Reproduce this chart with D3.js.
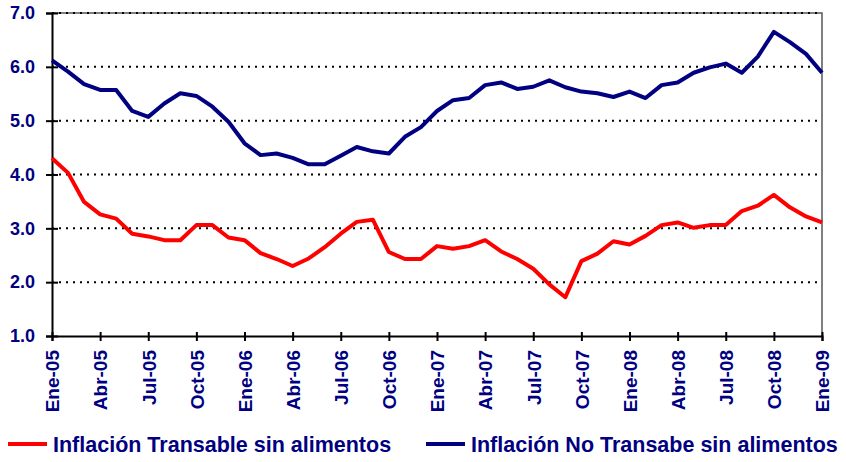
<!DOCTYPE html>
<html>
<head>
<meta charset="utf-8">
<script src="https://cdn.jsdelivr.net/npm/d3@7"></script>
<style>
	body { margin: 0; background: #fff; }
	text { font-family: "Liberation Sans", Arial, sans-serif; font-weight: bold; }
</style>
</head>
<body>
<div id="container"></div>
<script>
// months from Ene-05 to Ene-09
const monthNames = ["Ene", "Feb", "Mar", "Abr", "May", "Jun", "Jul", "Ago", "Sep", "Oct", "Nov", "Dic"]
const months = d3.range(49).map(i => `${monthNames[i % 12]}-0${5 + Math.floor(i / 12)}`)

const transable = [4.30, 4.03, 3.49, 3.26, 3.18, 2.90, 2.85, 2.78, 2.78, 3.06, 3.06, 2.83, 2.78,
	2.54, 2.43, 2.30, 2.44, 2.65, 2.90, 3.12, 3.16, 2.56, 2.43, 2.43, 2.67,
	2.62, 2.67, 2.78, 2.57, 2.43, 2.25, 1.96, 1.72, 2.39, 2.53, 2.76, 2.70,
	2.86, 3.06, 3.11, 3.01, 3.06, 3.06, 3.32, 3.42, 3.62, 3.39, 3.22, 3.11]

const noTransable = [6.12, 5.91, 5.68, 5.57, 5.57, 5.18, 5.07, 5.32, 5.51, 5.46, 5.26, 4.98, 4.58,
	4.36, 4.39, 4.31, 4.19, 4.19, 4.35, 4.51, 4.43, 4.39, 4.70, 4.88, 5.18,
	5.38, 5.42, 5.66, 5.71, 5.59, 5.63, 5.75, 5.62, 5.54, 5.51, 5.44, 5.54,
	5.42, 5.66, 5.71, 5.89, 5.99, 6.06, 5.89, 6.19, 6.65, 6.46, 6.24, 5.89]

const yTicks = [1, 2, 3, 4, 5, 6, 7]

const series = [
	{ name: "Inflación Transable sin alimentos", values: transable, color: "#ff0000" },
	{ name: "Inflación No Transabe sin alimentos", values: noTransable, color: "#000080" },
]

const width = 846
const height = 462
const margin = { top: 13, right: 24, bottom: 126, left: 52 }
const navy = "#000080"

const svg = d3.select("#container")
	.append("svg")
	.attr("width", width)
	.attr("height", height)

const x = d3.scaleLinear()
	.domain([0, months.length - 1])
	.range([margin.left, width - margin.right])

const y = d3.scaleLinear()
	.domain([1, 7])
	.range([height - margin.bottom, margin.top])

// plot frame (top and right)
svg.append("path")
	.attr("d", `M${x(0)},${y(7)}H${x(48)}V${y(1)}`)
	.attr("fill", "none")
	.attr("stroke", "#555")
	.attr("stroke-width", 1.5)

// dotted gridlines
svg.append("g")
	.selectAll("line")
	.data(yTicks.filter(d => d > 1))
	.join("line")
	.attr("x1", x(0))
	.attr("x2", x(48))
	.attr("y1", d => y(d))
	.attr("y2", d => y(d))
	.attr("stroke", "#000")
	.attr("stroke-width", 2)
	.attr("stroke-dasharray", "2,5")

// y axis, ticks cross the axis line
const yAxis = svg.append("g")
	.attr("transform", `translate(${x(0)},0)`)
	.call(d3.axisLeft(y).tickValues(yTicks).tickFormat(d3.format(".1f")).tickSize(6).tickPadding(11))
yAxis.select(".domain").attr("stroke", "#000").attr("stroke-width", 2)
yAxis.selectAll(".tick line").attr("stroke", "#000").attr("stroke-width", 2).attr("x1", 6)
yAxis.selectAll(".tick text")
	.attr("fill", navy)
	.style("font-size", "18px")

// x axis
const xAxis = svg.append("g")
	.attr("transform", `translate(0,${y(1)})`)
	.call(d3.axisBottom(x)
		.tickValues(d3.range(0, 49, 3))
		.tickFormat(i => months[i])
		.tickSize(5))
xAxis.select(".domain").attr("stroke", "#000").attr("stroke-width", 2)
xAxis.selectAll(".tick line").attr("stroke", "#000").attr("stroke-width", 2).attr("y1", -4)
xAxis.selectAll(".tick text")
	.attr("fill", navy)
	.style("font-size", "19px")
	.attr("transform", "rotate(-90)")
	.attr("text-anchor", "end")
	.attr("x", -14)
	.attr("y", 0)
	.attr("dy", "0.36em")

// lines
const line = d3.line()
	.x((d, i) => x(i))
	.y(d => y(d))

svg.append("g")
	.selectAll("path")
	.data(series)
	.join("path")
	.attr("d", d => line(d.values))
	.attr("fill", "none")
	.attr("stroke", d => d.color)
	.attr("stroke-width", 4)
	.attr("stroke-linejoin", "round")

// legend
const legendX = [8, 426]
const legend = svg.append("g")
	.selectAll("g")
	.data(series)
	.join("g")
	.attr("transform", (d, i) => `translate(${legendX[i]},444)`)

legend.append("line")
	.attr("x1", 0)
	.attr("x2", 39)
	.attr("stroke", d => d.color)
	.attr("stroke-width", 4)

legend.append("text")
	.attr("x", 45)
	.attr("dy", "0.36em")
	.attr("fill", navy)
	.style("font-size", "21.5px")
	.text(d => d.name)
</script>
</body>
</html>
